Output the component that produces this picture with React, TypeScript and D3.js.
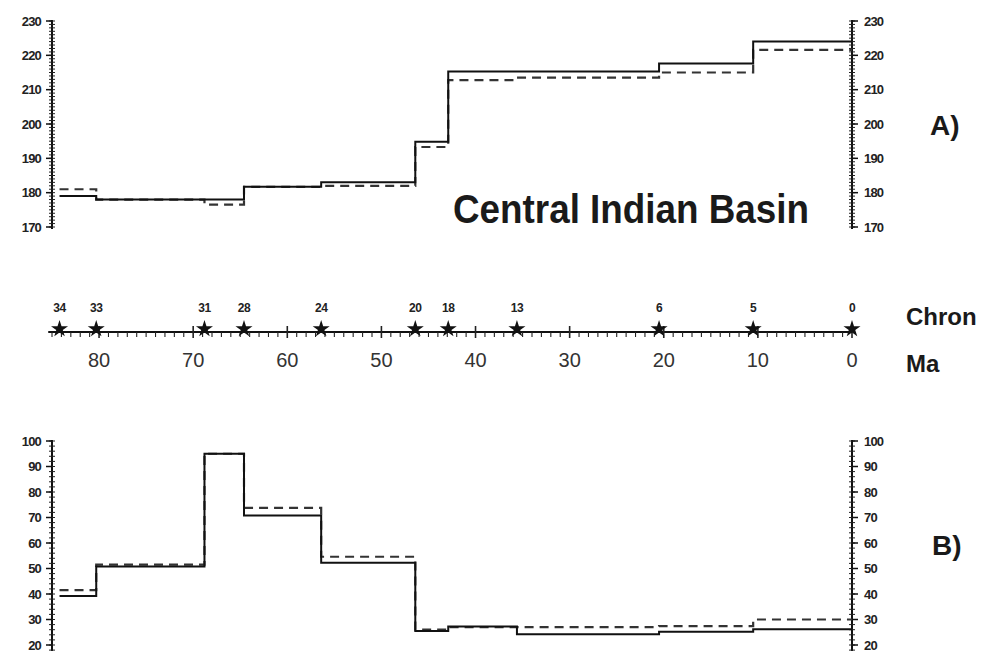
import React, { useEffect, useRef } from 'react';
import * as d3 from 'd3';

// chron boundaries (Ma) and their labels
const chronLabels = ['34', '33', '31', '28', '24', '20', '18', '13', '6', '5', '0'];
const chronAges = [84.2, 80.3, 68.8, 64.6, 56.4, 46.4, 42.9, 35.6, 20.5, 10.5, 0];

// panel A values per interval (start at chronAges[i])
const solidA = [179, 178, 178, 181.7, 183, 194.8, 215.3, 215.3, 217.6, 224];
const dashedA = [181, 178, 176.5, 181.7, 182, 193.3, 212.8, 213.5, 215, 221.6];

// panel B values per interval
const solidB = [39.2, 50.8, 95, 70.8, 52.3, 25.5, 27.3, 24.2, 25.2, 26.2];
const dashedB = [41.5, 51.5, 95, 73.8, 54.6, 26, 27, 27, 27.4, 30];

const ticksA = [170, 180, 190, 200, 210, 220, 230];
const ticksB = [20, 30, 40, 50, 60, 70, 80, 90, 100];
const maTicks = [80, 70, 60, 50, 40, 30, 20, 10, 0];

const FONT = '"Liberation Sans", Arial, Helvetica, sans-serif';

const App: React.FC = () => {
  const svgRef = useRef<SVGSVGElement>(null);

  useEffect(() => {
    if (!svgRef.current) return;
    const width = 995;
    const height = 651;

    const svg = d3.select(svgRef.current)
      .attr('width', width)
      .attr('height', height)
      .html('');

    const x = d3.scaleLinear().domain([85, 0]).range([52, 852]);
    const yA = d3.scaleLinear().domain([170, 230]).range([227, 21]);
    const yB = d3.scaleLinear().domain([20, 100]).range([645, 441]);

    const stepPts = (vals: number[]) => {
      const pts = vals.map((v, i) => [chronAges[i], v] as [number, number]);
      pts.push([0, vals[vals.length - 1]]);
      return pts;
    };

    const drawPanel = (
      y: d3.ScaleLinear<number, number>,
      ticks: number[],
      minorStep: number,
      bottomPx: number,
      solid: number[],
      dashed: number[]
    ) => {
      const g = svg.append('g');
      const [lo, hi] = y.domain();
      const minor = d3.range(lo - minorStep, hi + 0.001, minorStep);

      [x(85), x(0)].forEach((ax, k) => {
        const axis = g.append('g');
        axis.append('line')
          .attr('x1', ax).attr('x2', ax)
          .attr('y1', y(hi) - 1).attr('y2', bottomPx)
          .attr('stroke', '#111').attr('stroke-width', 2);
        axis.selectAll('.minor')
          .data(minor.filter(d => y(d) <= bottomPx))
          .enter().append('line')
          .attr('x1', ax - 3).attr('x2', ax + 3)
          .attr('y1', d => y(d)).attr('y2', d => y(d))
          .attr('stroke', '#222').attr('stroke-width', 1);
        const dir = k === 0 ? -1 : 1;
        axis.selectAll('.major')
          .data(ticks)
          .enter().append('line')
          .attr('x1', ax).attr('x2', ax + dir * 6)
          .attr('y1', d => y(d)).attr('y2', d => y(d))
          .attr('stroke', '#111').attr('stroke-width', 1.5);
        axis.selectAll('.lbl')
          .data(ticks)
          .enter().append('text')
          .attr('x', k === 0 ? ax - 11 : ax + 12)
          .attr('y', d => Math.min(y(d) + 4.5, height - 1.5))
          .attr('text-anchor', k === 0 ? 'end' : 'start')
          .attr('font-family', FONT)
          .attr('font-size', 13)
          .attr('font-weight', 'bold')
          .attr('letter-spacing', -0.8)
          .attr('fill', '#222')
          .text(d => d);
      });

      const line = d3.line<[number, number]>()
        .x(d => x(d[0]))
        .y(d => y(d[1]))
        .curve(d3.curveStepAfter);

      g.append('path')
        .datum(stepPts(dashed))
        .attr('d', line)
        .attr('fill', 'none')
        .attr('stroke', '#333')
        .attr('stroke-width', 2.2)
        .attr('stroke-dasharray', '9 6');

      g.append('path')
        .datum(stepPts(solid))
        .attr('d', line)
        .attr('fill', 'none')
        .attr('stroke', '#111')
        .attr('stroke-width', 2);
    };

    drawPanel(yA, ticksA, 1, 229, solidA, dashedA);
    drawPanel(yB, ticksB, 2, 651, solidB, dashedB);

    // time axis with chrons
    const axisY = 332;
    const mid = svg.append('g');
    mid.append('line')
      .attr('x1', x(85.4)).attr('x2', x(0))
      .attr('y1', axisY).attr('y2', axisY)
      .attr('stroke', '#111').attr('stroke-width', 2);
    mid.selectAll('.mtick')
      .data(d3.range(0, 86, 1))
      .enter().append('line')
      .attr('x1', d => x(d)).attr('x2', d => x(d))
      .attr('y1', d => (d % 10 === 0 ? axisY - 6 : axisY))
      .attr('y2', d => (d % 10 === 0 ? axisY + 6 : axisY + 5))
      .attr('stroke', '#222')
      .attr('stroke-width', d => (d % 10 === 0 ? 1.6 : 1.1));
    mid.selectAll('.malbl')
      .data(maTicks)
      .enter().append('text')
      .attr('x', d => x(d))
      .attr('y', 367)
      .attr('text-anchor', 'middle')
      .attr('font-family', FONT)
      .attr('font-size', 20)
      .attr('fill', '#333')
      .text(d => d);

    const star = d3.symbol().type(d3.symbolStar).size(90);
    mid.selectAll('.star')
      .data(chronAges)
      .enter().append('path')
      .attr('d', star)
      .attr('transform', d => `translate(${x(d)},${axisY - 3})`)
      .attr('fill', '#111');
    mid.selectAll('.clbl')
      .data(chronLabels)
      .enter().append('text')
      .attr('x', (d, i) => x(chronAges[i]))
      .attr('y', 312)
      .attr('text-anchor', 'middle')
      .attr('font-family', FONT)
      .attr('font-size', 12)
      .attr('font-weight', 'bold')
      .attr('letter-spacing', -0.5)
      .attr('fill', '#222')
      .text(d => d);

    const label = (txt: string, lx: number, ly: number, size: number) =>
      svg.append('text')
        .attr('x', lx).attr('y', ly)
        .attr('font-family', FONT)
        .attr('font-size', size)
        .attr('font-weight', 'bold')
        .attr('fill', '#1a1a1a')
        .text(txt);

    label('Chron', 906, 325, 24);
    label('Ma', 906, 372, 24);
    label('A)', 930, 135, 28);
    label('B)', 932, 555, 28);

    svg.append('text')
      .attr('x', 453).attr('y', 223)
      .attr('font-family', FONT)
      .attr('font-size', 40)
      .attr('font-weight', 'bold')
      .attr('fill', '#1a1a1a')
      .attr('textLength', 356)
      .attr('lengthAdjust', 'spacingAndGlyphs')
      .text('Central Indian Basin');
  }, []);

  return (
    <div style={{ position: 'absolute', left: 0, top: 0, background: '#fff' }}>
      <svg ref={svgRef}></svg>
    </div>
  );
};

export default App;
